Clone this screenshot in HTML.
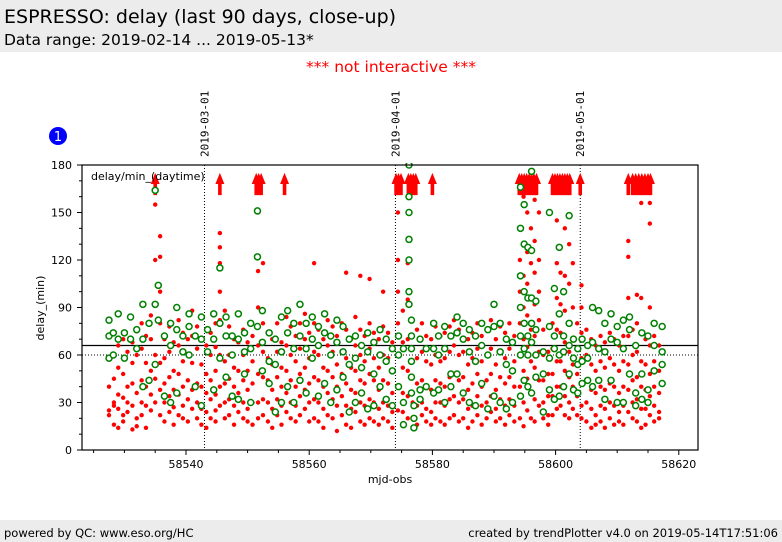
<!DOCTYPE html>
<html><head><meta charset="utf-8"><style>
body{margin:0;width:782px;height:542px;background:#fff;font-family:"DejaVu Sans","Liberation Sans",sans-serif;overflow:hidden;position:relative}
#hdr{position:absolute;left:0;top:0;width:782px;height:52px;background:#ececec}
#t1{position:absolute;left:4px;top:6px;font-size:19px;color:#000}
#t2{position:absolute;left:4px;top:31px;font-size:15.5px;color:#000}
#ni{position:absolute;left:0;width:782px;top:58px;text-align:center;color:#f00;font-size:15.5px}
#ftr{position:absolute;left:0;top:520px;width:782px;height:22px;background:#ececec;font-size:11.5px}
#ftr span{position:absolute;top:6px}
svg{position:absolute;left:0;top:0}
</style></head><body>
<div id="hdr">
<div id="t1">ESPRESSO: delay (last 90 days, close-up)</div>
<div id="t2">Data range: 2019-02-14 ... 2019-05-13*</div>
</div>
<div id="ni">*** not interactive ***</div>
<div id="ftr"><span style="left:4px">powered by QC: www.eso.org/HC</span><span style="right:4px">created by trendPlotter v4.0 on 2019-05-14T17:51:06</span></div>
<svg id="chart" width="782" height="542"></svg>
<script>
const xTicks=[58540,58560,58580,58600,58620];
const yTicks=[0,30,60,90,120,150,180];
const dateLines=[58543,58574,58604];
const dateLabels=["2019-03-01","2019-04-01","2019-05-01"];
const refSolid=66, refDotted=60;
const arrowX=[58535,58545.5,58551.4,58551.8,58552.2,58556,58574.1,58574.5,58574.9,58576.1,58576.5,58576.9,58577.3,58580,58594.1,58594.5,58594.9,58595.3,58595.7,58596.1,58596.5,58596.9,58599.5,58599.9,58600.3,58600.7,58601.1,58601.5,58601.9,58602.3,58604,58611.8,58612.5,58613,58613.5,58614,58614.5,58615,58615.4];
const redX=[58527.5,58528.3,58529,58529.8,58530.5,58531.3,58532,58532.8,58533.5,58534.3,58535,58535.8,58536.5,58537.3,58538,58538.8,58539.5,58540.3,58541,58541.8,58542.5,58543.3,58544,58544.8,58545.5,58546.3,58547,58547.8,58548.5,58549.3,58550,58550.8,58551.7,58552.5,58553.3,58554,58554.8,58555.5,58556.3,58557,58557.8,58558.5,58559.3,58560,58560.8,58561.5,58562.3,58563,58563.8,58564.5,58565.3,58566,58566.8,58567.5,58568.3,58569,58569.8,58570.5,58571.3,58572,58572.8,58573.5,58574.4,58575.2,58576,58576.8,58577.5,58578.3,58579,58579.8,58580.5,58581.3,58582,58582.8,58583.5,58584.3,58585,58585.8,58586.5,58587.3,58588,58588.8,58589.5,58590.3,58591,58591.8,58592.5,58593.3,58594.2,58594.8,58595.4,58596,58596.6,58597.3,58598,58598.8,58599.5,58600.2,58600.8,58601.5,58602.2,58602.8,58603.5,58604.2,58605,58605.8,58606.5,58607.3,58608,58608.8,58609.5,58610.3,58611,58611.8,58612.5,58613.2,58613.9,58614.6,58615.3,58616,58616.8,58617.5];
const redY=[[72,58,40,25,22],[60,45,30,28,16],[66,52,35,26,14],[70,48,33,22,18],[62,40,30,24],[68,55,42,28,13],[75,60,36,20,15],[80,64,44,30,22],[72,55,40,28,14],[85,70,50,35,25],[163,155,120,92,60,45,30],[135,122,100,80,55,38,22],[70,58,42,30,18],[78,62,46,34,24],[68,50,38,27,16],[82,66,48,35,22],[74,56,40,28,20],[70,60,44,32,18],[88,72,55,38,26],[78,64,42,30,20],[70,54,40,26,16],[66,48,36,24,14],[74,60,44,32,20],[80,65,50,35,25,18],[137,128,118,100,82,60,40,28],[88,72,56,42,30,20],[78,60,45,32,22],[70,52,40,28,16],[86,68,50,36,24],[76,60,44,30,20],[68,50,38,26,18],[72,56,42,30,16],[150,122,113,90,66,48,30,20],[118,80,62,46,32,22],[74,58,44,30,18],[70,54,38,26,14],[80,62,46,32,22],[68,52,40,28,16],[84,66,50,36,24],[78,60,44,30,20],[72,56,40,28,18],[80,64,48,34,22],[86,70,52,38,26],[74,58,42,30,18],[118,80,62,46,32,20],[76,60,44,30,18],[70,52,40,26,14],[82,66,50,36,22],[78,62,46,32,20],[72,54,40,28,12],[80,62,48,34,22],[112,76,58,42,28,16],[70,52,38,26,14],[84,66,50,36,24],[110,76,60,44,30,18],[72,56,42,28,16],[108,80,64,48,32,20],[74,58,44,30,18],[70,52,38,26,16],[100,78,60,44,30,20],[74,58,42,28,18],[68,50,36,24,14],[150,120,100,80,60,40,25],[88,68,52,36,24],[118,95,70,50,34,20],[82,64,46,30,20],[76,58,42,28,16],[80,62,44,30,22],[72,56,40,26,18],[70,54,38,24,16],[78,60,44,30,20],[72,56,42,30,18],[74,58,40,28,16],[78,62,46,32,20],[82,66,48,34,22],[76,60,44,30,18],[80,62,46,32,20],[70,54,38,26,14],[74,58,42,28,18],[80,64,48,34,22],[72,56,40,28,16],[76,60,44,30,20],[82,64,48,34,24],[70,54,38,26,18],[78,62,46,32,20],[74,58,42,28,16],[80,64,46,32,22],[72,56,40,28,18],[168,140,120,100,80,60,40,20],[160,130,110,90,70,50,30,15],[170,150,125,105,85,65,45,25],[165,140,118,96,76,56,36,20],[158,132,112,92,72,52,32,18],[150,120,100,82,62,44,28],[76,60,44,30,20],[62,48,34,22,16],[80,64,48,34,22],[145,118,96,76,56,40,26],[112,92,74,56,40,28],[140,110,88,68,50,34,22],[130,105,80,62,46,30,20],[118,90,70,54,40,26],[80,64,48,34,22],[104,90,74,58,42,28,20],[76,60,44,30,18],[70,54,38,26,14],[66,50,36,22,16],[72,56,40,28,18],[68,52,38,26,14],[74,58,42,30,20],[70,54,40,28,16],[66,50,36,24,18],[72,56,40,28,16],[132,122,96,72,54,38,24],[76,60,44,30,20],[98,80,62,46,32,18],[156,96,74,56,40,26,14],[70,54,38,26,16],[156,143,90,66,48,34,22],[72,56,40,28,18],[66,50,36,24,20]];
const greenX=[58527.5,58528.2,58529,58530,58531,58532,58533,58534,58535,58535.5,58536.5,58537.5,58538.5,58539.5,58540.5,58541.5,58542.5,58543.5,58544.5,58545.5,58546.5,58547.5,58548.5,58549.5,58550.5,58551.6,58552.4,58553.5,58554.5,58555.5,58556.5,58557.5,58558.5,58559.5,58560.5,58561.5,58562.5,58563.5,58564.5,58565.5,58566.5,58567.5,58568.5,58569.5,58570.5,58571.5,58572.5,58573.5,58574.5,58575.3,58576.2,58576.6,58577,58578,58579,58580.2,58581,58582,58583,58584,58585,58586,58587,58588,58589,58590,58591,58592,58593,58594.3,58594.9,58595.5,58596.1,58596.8,58598,58599,58599.8,58600.6,58601.3,58602.2,58602.9,58603.6,58604.3,58605.2,58606,58607,58608,58609,58610,58611,58612,58613,58614,58615,58616,58617.3];
const greenY=[[82,72,58],[60,74],[86,70],[74,58],[84,70],[76,64],[92,70,40],[80,44],[164,92,54],[104,82],[72,34],[80,66,30],[90,76,36],[72,62],[86,78,60],[72,40],[84,70,28],[76,62],[86,70,38],[115,80,58],[84,72,46],[72,60,34],[86,70,32],[74,62,48],[80,64,30],[151,122,78],[88,68,50],[74,56,42],[70,54,24],[84,62,30],[88,74,40],[80,64,30],[92,72,44],[80,64,36],[84,70,58],[78,66,34],[86,74,42],[72,60,30],[82,68,38],[78,62,46],[70,54,24],[72,58,30],[66,52,36],[74,62,26],[68,48,28],[76,60,40],[70,56,32],[64,50,28],[72,60,40],[64,30,16],[180,160,150,133,120,100,92],[82,72,64,56,46,36],[28,20,14],[70,38,32],[64,40],[80,64,36],[72,60,38],[78,64,30],[72,48,40],[84,74,48],[80,70,36],[76,62,30],[72,56,28],[80,66,42],[76,60,26],[92,78,34],[80,62,30],[70,54,26],[68,50,30],[166,140,110,90,72,60,34],[155,130,100,80,64,44],[128,96,72,60,40],[176,126,96,80,68,36],[94,76,60,46],[62,48,24],[150,78,58,38],[102,72,64,32],[128,86,60,34],[100,72,62,40],[148,80,66,48],[70,58,38],[64,54,36],[70,56,42],[66,58,44],[90,68,40],[88,64,44],[80,62,32],[86,70,44],[78,68,30],[82,64,30],[84,76,48],[66,36,28],[74,48,32],[72,38,30],[80,66,50],[78,62,54,42]];

const NS='http://www.w3.org/2000/svg';
const svg=document.getElementById('chart');
const L=82,R=698,T=165,B=450;
function px(v){return 186+(v-58540)*6.16;}
function py(v){return B-(v/180)*(B-T);}
function mk(tag,a,parent){const e=document.createElementNS(NS,tag);for(const k in a)e.setAttribute(k,a[k]);(parent||svg).appendChild(e);return e;}
const defs=mk('defs',{});
const clip=mk('clipPath',{id:'pc'},defs);mk('rect',{x:L,y:T-2,width:R-L,height:B-T+2},clip);
dateLines.forEach((d,i)=>{
 const ln=mk('line',{x1:px(d),x2:px(d),y1:T,y2:B,stroke:'#000','stroke-width':1,'stroke-dasharray':'1,2'});
 
 
 const x=px(d)+4,y=157;
 const t=mk('text',{x:x,y:y,transform:`rotate(-90 ${x} ${y})`,'font-size':11,'font-family':'"DejaVu Sans Mono","Liberation Mono",monospace',fill:'#000'});
 t.textContent=dateLabels[i];
 
 
});
const rs=mk('line',{x1:L,x2:R,y1:py(refSolid),y2:py(refSolid),stroke:'#000','stroke-width':1.2});


const rd=mk('line',{x1:L,x2:R,y1:py(refDotted),y2:py(refDotted),stroke:'#000','stroke-width':1,'stroke-dasharray':'1,2'});


const g=mk('g',{'clip-path':'url(#pc)'});


const nR=Math.min(redX.length,redY.length);
for(let i=0;i<nR;i++){redY[i].forEach(y=>{
 const c=mk('circle',{cx:px(redX[i]),cy:py(y),r:2.2,fill:'#f00'},g);
 
 
});}
arrowX.forEach(x=>{
 const X=px(x);
 const a=mk('path',{d:`M${X-1.8},${py(161)}L${X+1.8},${py(161)}L${X+1.8},${py(168)}L${X+4.5},${py(168)}L${X},${py(175)}L${X-4.5},${py(168)}L${X-1.8},${py(168)}Z`,fill:'#f00'},g);
 
 
});
const nG=Math.min(greenX.length,greenY.length);
for(let i=0;i<nG;i++){greenY[i].forEach(y=>{
 const c=mk('circle',{cx:px(greenX[i]),cy:py(y),r:3,fill:'#fff',stroke:'#008000','stroke-width':1.5},g);
 
 
});}
const fr=mk('rect',{x:L,y:T,width:R-L,height:B-T,fill:'none',stroke:'#000','stroke-width':1.2});


for(let v=0;v<=180;v+=10){const major=v%30===0;mk('line',{x1:L-(major?5:3),x2:L,y1:py(v),y2:py(v),stroke:'#000'});}
yTicks.forEach(v=>{const t=mk('text',{x:L-10,y:py(v)+4,'text-anchor':'end','font-size':11,fill:'#000'});t.textContent=v;
 
 });
for(let v=58525;v<=58620;v+=5){const major=v%20===0;mk('line',{x1:px(v),x2:px(v),y1:B,y2:B+(major?5:3),stroke:'#000'});}
xTicks.forEach(v=>{const t=mk('text',{x:px(v),y:B+18,'text-anchor':'middle','font-size':11,fill:'#000'});t.textContent=v;
 
 });
const xt=mk('text',{x:390,y:483,'text-anchor':'middle','font-size':11,fill:'#000'});xt.textContent='mjd-obs';


const yt=mk('text',{x:44,y:308,transform:'rotate(-90 44 308)','text-anchor':'middle','font-size':11,fill:'#000'});yt.textContent='delay_(min)';


const lg=mk('text',{x:91,y:180,'font-size':11,fill:'#000'});lg.textContent='delay/min_(daytime)';


const bc=mk('circle',{cx:58,cy:136,r:9,fill:'#00f'});


const bt=mk('text',{x:58,y:141,'text-anchor':'middle','font-size':13,fill:'#fff'});bt.textContent='1';


</script>
</body></html>
